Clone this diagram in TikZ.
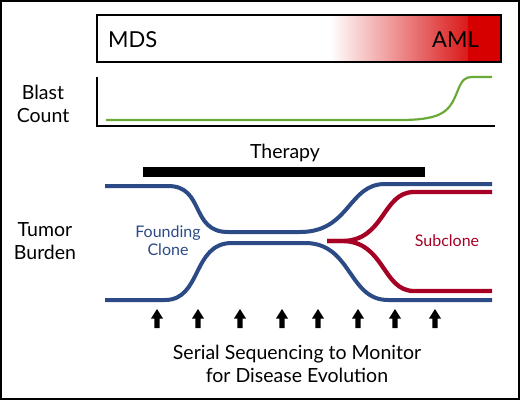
\documentclass[tikz,border=0pt]{standalone}
\usepackage{fontspec}
\setmainfont{Lato}
\definecolor{amlred}{RGB}{214,0,0}
\definecolor{clonblue}{RGB}{44,74,134}
\definecolor{subred}{RGB}{166,0,36}
\definecolor{blastgreen}{RGB}{106,170,58}
\begin{document}
\begin{tikzpicture}[x=1pt,y=-1pt,
  lbl/.style={font=\fontsize{19.5}{23}\selectfont, align=center, text=black, inner sep=0},
  clonelbl/.style={font=\fontsize{16}{18}\selectfont, align=center, inner sep=0},
  blueline/.style={draw=clonblue, line width=4pt},
  redline/.style={draw=subred, line width=4.3pt},
  uparrow/.style={fill=black}]
\useasboundingbox (0,0) rectangle (520,400);
\draw[line width=2pt] (1,1) rectangle (519,399);
% top bar
\shade[left color=white, right color=amlred!90!white] (330,15) rectangle (468,62);
\fill[amlred] (467.5,15) rectangle (501,62);
\draw[line width=2pt] (97,15) rectangle (501,62);
\node[lbl, font=\fontsize{22}{26}\selectfont, anchor=west] (mds) at (108,40) {MDS};
\node[lbl, font=\fontsize{22}{26}\selectfont, anchor=east] (aml) at (479,40) {AML};
% blast count
\node[lbl] (blast) at (43,104) {Blast\\Count};
\draw[line width=2pt] (97,77) -- (97,126) -- (495,126);
\draw[blastgreen, line width=2.2pt] (106,120) -- (400,120) .. controls (445,120) and (450,110) .. (458,90) .. controls (462,80) and (465,77) .. (472,77) -- (492,77);
% therapy
\node[lbl] (therapy) at (285,153) {Therapy};
\fill (143,167) rectangle (425,177);
% tumor burden
\node[lbl] (tumor) at (45,241) {Tumor\\Burden};
\path[blueline] (105,186) -- (168,186) .. controls (205,186) and (190,232) .. (228,232) -- (300,232) .. controls (350,232) and (348,184) .. (385,184) -- (492,184);
\path[blueline] (105,300) -- (165,300) .. controls (202,300) and (192,243) .. (232,243) -- (305,243) .. controls (352,243) and (348,300) .. (388,300) -- (492,300);
\path[redline] (327,241) -- (342,241) .. controls (385,241) and (382,192) .. (414,192) -- (492,192);
\path[redline] (327,241) -- (342,241) .. controls (385,241) and (382,291) .. (414,291) -- (492,291);
\node[clonelbl, text=clonblue] (founding) at (168,241) {Founding\\Clone};
\node[clonelbl, text=subred] (subclone) at (447,241) {Subclone};
% arrows
\foreach \x in {157,198,240,282,318,358,395,435}{
  \fill[uparrow] (\x-2.7,328) -- (\x-2.7,318.5) -- (\x-6,318.5) -- (\x,309) -- (\x+6,318.5) -- (\x+2.7,318.5) -- (\x+2.7,328) -- cycle;
}
\node[lbl] (serial) at (297,364) {Serial Sequencing to Monitor\\for Disease Evolution};
\end{tikzpicture}
\end{document}
